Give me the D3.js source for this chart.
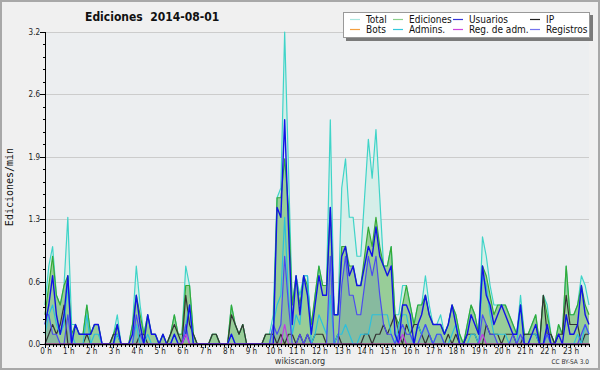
<!DOCTYPE html>
<html>
<head>
<meta charset="utf-8">
<script src="https://cdn.jsdelivr.net/npm/d3@7"></script>
<style>
body { margin: 0; background: #fff; }
text { font-family: "DejaVu Sans Condensed", "Liberation Sans", sans-serif; }
</style>
</head>
<body>
<svg id="chart" width="600" height="370"></svg>
<script>
// edits per minute, one value per 10 minutes (144 slots)
const hourLabels = ["0 h","1 h","2 h","3 h","4 h","5 h","6 h","7 h","8 h","9 h","10 h","11 h",
    "12 h","13 h","14 h","15 h","16 h","17 h","18 h","19 h","20 h","21 h","22 h","23 h"];

const yTickValues = [0, 0.64, 1.28, 1.92, 2.56, 3.2];
const yTickLabels = ["0.0", "0.6", "1.3", "1.9", "2.6", "3.2"];

const total = [
    0.4,0.8,1.0,0.5,0.4,0.6, 1.3,0.2,0.2,0.1,0.1,0.4, 0.1,0.2,0.2,0.0,0.0,0.0, 0.1,0.3,0.0,0.0,0.0,0.2,
    0.8,0.4,0.1,0.3,0.1,0.1, 0.0,0.1,0.0,0.1,0.3,0.1, 0.1,0.8,0.6,0.1,0.0,0.0, 0.0,0.0,0.1,0.1,0.0,0.0,
    0.0,0.4,0.2,0.1,0.2,0.0, 0.0,0.0,0.0,0.0,0.1,0.1, 0.3,1.5,1.6,3.2,1.8,0.4, 0.7,0.5,0.7,0.7,0.1,0.5,
    0.8,0.6,0.6,2.3,0.3,0.3, 1.6,1.9,1.3,1.3,0.9,0.9, 1.5,2.1,1.7,2.2,1.5,0.8, 0.8,1.0,0.3,0.3,0.6,0.6,
    0.4,0.2,0.4,0.4,0.7,0.4, 0.2,0.2,0.3,0.1,0.2,0.4, 0.3,0.1,0.0,0.2,0.4,0.3, 0.1,1.1,0.9,0.6,0.4,0.4,
    0.4,0.4,0.3,0.2,0.1,0.5, 0.1,0.1,0.2,0.3,0.0,0.5, 0.4,0.1,0.0,0.2,0.1,0.8, 0.3,0.3,0.4,0.7,0.6,0.4
];
const ediciones = [
    0.3,0.6,0.9,0.5,0.4,0.6, 0.7,0.1,0.2,0.1,0.1,0.4, 0.1,0.2,0.2,0.0,0.0,0.0, 0.1,0.2,0.0,0.0,0.0,0.2,
    0.5,0.3,0.1,0.3,0.1,0.1, 0.0,0.1,0.0,0.1,0.3,0.1, 0.1,0.6,0.6,0.1,0.0,0.0, 0.0,0.0,0.1,0.1,0.0,0.0,
    0.0,0.4,0.2,0.1,0.2,0.0, 0.0,0.0,0.0,0.0,0.1,0.1, 0.1,1.5,1.5,1.9,1.4,0.4, 0.7,0.4,0.7,0.6,0.2,0.5,
    0.8,0.6,0.6,1.4,0.3,0.3, 1.0,1.0,0.8,0.8,0.6,0.6, 0.9,1.2,1.0,1.3,1.0,0.8, 0.8,1.0,0.3,0.2,0.4,0.6,
    0.4,0.2,0.4,0.4,0.5,0.3, 0.2,0.2,0.2,0.1,0.2,0.4, 0.3,0.1,0.0,0.2,0.4,0.3, 0.1,0.8,0.7,0.5,0.3,0.4,
    0.4,0.4,0.3,0.2,0.1,0.4, 0.1,0.1,0.2,0.3,0.0,0.5, 0.3,0.1,0.0,0.2,0.1,0.8, 0.3,0.3,0.4,0.6,0.4,0.3
];
const usuarios = [
    0.2,0.4,0.7,0.3,0.1,0.3, 0.7,0.0,0.2,0.1,0.1,0.1, 0.1,0.2,0.2,0.0,0.0,0.0, 0.0,0.2,0.0,0.0,0.0,0.1,
    0.5,0.2,0.0,0.3,0.1,0.1, 0.0,0.1,0.0,0.0,0.1,0.0, 0.0,0.1,0.4,0.0,0.0,0.0, 0.0,0.0,0.0,0.0,0.0,0.0,
    0.0,0.1,0.0,0.0,0.0,0.0, 0.0,0.0,0.0,0.0,0.0,0.0, 0.0,1.4,1.3,2.3,1.2,0.2, 0.7,0.3,0.7,0.5,0.1,0.4,
    0.7,0.5,0.5,1.4,0.3,0.3, 0.9,1.0,0.7,0.8,0.6,0.6, 0.8,1.0,0.9,1.2,0.9,0.8, 0.7,0.8,0.1,0.0,0.4,0.4,
    0.3,0.0,0.2,0.3,0.5,0.3, 0.2,0.2,0.2,0.1,0.2,0.4, 0.2,0.0,0.0,0.1,0.3,0.2, 0.1,0.8,0.5,0.4,0.2,0.3,
    0.4,0.3,0.2,0.1,0.1,0.4, 0.0,0.0,0.1,0.2,0.0,0.0, 0.2,0.0,0.0,0.1,0.0,0.3, 0.1,0.1,0.2,0.6,0.3,0.2
];
const ip = [
    0.0,0.1,0.2,0.1,0.2,0.4, 0.0,0.0,0.0,0.0,0.0,0.1, 0.0,0.0,0.0,0.0,0.0,0.0, 0.1,0.1,0.0,0.0,0.0,0.0,
    0.0,0.1,0.1,0.0,0.0,0.0, 0.0,0.0,0.0,0.1,0.2,0.1, 0.0,0.5,0.2,0.1,0.0,0.0, 0.0,0.0,0.1,0.1,0.0,0.0,
    0.0,0.3,0.2,0.1,0.2,0.0, 0.0,0.0,0.0,0.0,0.1,0.1, 0.1,0.0,0.1,0.0,0.1,0.1, 0.0,0.1,0.0,0.1,0.0,0.1,
    0.1,0.1,0.0,0.0,0.0,0.1, 0.0,0.0,0.0,0.0,0.0,0.0, 0.1,0.1,0.0,0.1,0.1,0.2, 0.1,0.2,0.3,0.1,0.0,0.2,
    0.1,0.2,0.2,0.1,0.0,0.1, 0.0,0.0,0.0,0.0,0.1,0.0, 0.1,0.0,0.0,0.1,0.1,0.1, 0.0,0.0,0.2,0.1,0.1,0.1,
    0.0,0.1,0.1,0.1,0.0,0.0, 0.1,0.1,0.1,0.1,0.0,0.5, 0.1,0.1,0.0,0.1,0.1,0.5, 0.2,0.2,0.2,0.0,0.1,0.1
];
const bots = new Array(144).fill(0);
const admins = [
    0.1,0.3,0.4,0.2,0.1,0.2, 0.6,0.1,0.0,0.0,0.0,0.3, 0.0,0.1,0.1,0.0,0.0,0.0, 0.0,0.1,0.0,0.0,0.0,0.0,
    0.2,0.0,0.0,0.1,0.0,0.0, 0.0,0.0,0.0,0.0,0.1,0.0, 0.0,0.2,0.4,0.0,0.0,0.0, 0.0,0.0,0.0,0.0,0.0,0.0,
    0.0,0.1,0.0,0.0,0.0,0.0, 0.0,0.0,0.0,0.0,0.0,0.0, 0.2,0.4,0.5,1.3,0.5,0.1, 0.3,0.2,0.7,0.7,0.0,0.1,
    0.3,0.2,0.1,0.5,0.0,0.1, 0.1,0.2,0.1,0.0,0.0,0.1, 0.1,0.1,0.3,0.3,0.3,0.3, 0.3,0.1,0.0,0.2,0.3,0.3,
    0.1,0.0,0.2,0.1,0.2,0.1, 0.0,0.1,0.1,0.0,0.0,0.1, 0.2,0.0,0.0,0.0,0.1,0.1, 0.0,0.7,0.6,0.3,0.1,0.1,
    0.1,0.1,0.0,0.0,0.0,0.4, 0.0,0.0,0.1,0.1,0.0,0.0, 0.1,0.0,0.0,0.0,0.0,0.0, 0.0,0.0,0.1,0.0,0.2,0.1
];
const regAdm = [
    0,0,0,0,0,0, 0,0,0,0,0,0, 0,0,0,0,0,0, 0,0,0,0,0,0,
    0,0,0,0,0,0, 0,0,0,0,0,0, 0,0.1,0,0,0,0, 0,0,0,0,0,0,
    0,0,0,0,0,0, 0,0,0,0,0,0, 0,0,0,0.2,0,0, 0,0,0,0,0,0,
    0,0,0,0,0,0, 0,0,0,0,0,0, 0,0,0,0,0,0, 0,0,0,0,0.1,0,
    0,0,0,0,0,0, 0,0,0,0,0,0, 0,0,0,0,0,0, 0,0.1,0,0,0,0,
    0,0,0,0,0,0, 0,0,0,0,0,0, 0,0,0,0,0,0, 0,0,0,0,0,0
];
const registros = [
    0.3,0.3,0.1,0.1,0.0,0.0, 0.3,0.0,0.0,0.0,0.0,0.0, 0.0,0.0,0.0,0.0,0.0,0.0, 0.0,0.0,0.0,0.0,0.0,0.0,
    0.3,0.1,0.0,0.0,0.0,0.0, 0.0,0.0,0.0,0.0,0.0,0.0, 0.0,0.2,0.0,0.0,0.0,0.0, 0.0,0.0,0.0,0.0,0.0,0.0,
    0.0,0.0,0.0,0.0,0.0,0.0, 0.0,0.0,0.0,0.0,0.0,0.0, 0.2,0.1,0.2,0.9,0.4,0.0, 0.0,0.1,0.0,0.1,0.0,0.0,
    0.0,0.0,0.0,0.9,0.0,0.0, 0.6,0.9,0.5,0.5,0.3,0.3, 0.6,0.9,0.7,0.9,0.5,0.2, 0.1,0.1,0.0,0.1,0.2,0.1,
    0.1,0.0,0.0,0.1,0.2,0.1, 0.0,0.1,0.1,0.0,0.0,0.0, 0.0,0.0,0.0,0.0,0.0,0.0, 0.0,0.3,0.2,0.1,0.1,0.0,
    0.0,0.0,0.0,0.1,0.0,0.1, 0.0,0.0,0.0,0.0,0.0,0.0, 0.1,0.0,0.0,0.0,0.0,0.0, 0.0,0.0,0.0,0.1,0.2,0.1
];

const legendNames = ["Total", "Ediciones", "Usuarios", "IP", "Bots", "Admins.", "Reg. de adm.", "Registros"];
const legendColours = ["#a9e6e0", "#8ccf8c", "#3434d8", "#222222", "#f4a040", "#33c8dc", "#cc44dd", "#7474ee"];

const svg = d3.select("#chart");

const margin = {left: 45, right: 589, top: 32, bottom: 344};

const x = d3.scaleLinear().domain([0, 143]).range([margin.left, margin.right]);
const y = d3.scaleLinear().domain([0, 3.2]).range([margin.bottom, margin.top]);

// background + frame
svg.append("rect").attr("x", 0).attr("y", 0).attr("width", 600).attr("height", 370)
    .attr("fill", "#f0f0f0");
svg.append("rect").attr("x", margin.left).attr("y", margin.top)
    .attr("width", margin.right - margin.left).attr("height", margin.bottom - margin.top)
    .attr("fill", "#eceef0");
svg.append("rect").attr("x", 1).attr("y", 1).attr("width", 598).attr("height", 368)
    .attr("fill", "none").attr("stroke", "#a8a8a8").attr("stroke-width", 2);

// grid
svg.append("g")
    .selectAll("line")
    .data(yTickValues.slice(1))
    .join("line")
    .attr("x1", margin.left).attr("x2", margin.right)
    .attr("y1", d => Math.round(y(d)) + 0.5).attr("y2", d => Math.round(y(d)) + 0.5)
    .attr("stroke", "#cccccc");

const area = (arr) => d3.area()
    .x((d, i) => x(i))
    .y0(y(0))
    .y1(d => y(d))(arr);
const line = (arr) => d3.line()
    .x((d, i) => x(i))
    .y(d => y(d))(arr);

// areas
svg.append("path").attr("d", area(total)).attr("fill", "#d6eee9");
svg.append("path").attr("d", area(ediciones)).attr("fill", "#98cd98");
svg.append("path").attr("d", area(registros)).attr("fill", "rgba(50,90,200,0.16)");

//lines
const lines = [
    {data: total, colour: "#3fd4c8", width: 1.2},
    {data: ediciones, colour: "#36aa36", width: 1.2},
    {data: bots, colour: "#f4a040", width: 1.2},
    {data: ip, colour: "#333333", width: 1.2},
    {data: admins, colour: "#2cc0dc", width: 1.2},
    {data: registros, colour: "#4b4bf0", width: 1.2},
    {data: usuarios, colour: "#1212e6", width: 1.4},
    {data: regAdm, colour: "#c438e6", width: 1.2}
];
svg.append("g")
    .attr("fill", "none")
    .attr("stroke-linejoin", "round")
    .selectAll("path")
    .data(lines)
    .join("path")
    .attr("d", d => line(d.data))
    .attr("stroke", d => d.colour)
    .attr("stroke-width", d => d.width);

// y axis
const yAxis = svg.append("g").attr("font-size", 8).attr("fill", "#222");
yAxis.append("line")
    .attr("x1", margin.left + 0.5).attr("x2", margin.left + 0.5)
    .attr("y1", margin.top).attr("y2", margin.bottom + 1)
    .attr("stroke", "#000");
yAxis.selectAll("line.minor")
    .data(d3.range(0, 3.2001, 0.128))
    .join("line")
    .attr("class", "minor")
    .attr("x1", margin.left - 2).attr("x2", margin.left)
    .attr("y1", d => Math.round(y(d)) + 0.5).attr("y2", d => Math.round(y(d)) + 0.5)
    .attr("stroke", "#000");
yAxis.selectAll("line.major")
    .data(yTickValues)
    .join("line")
    .attr("class", "major")
    .attr("x1", margin.left - 5).attr("x2", margin.left)
    .attr("y1", d => Math.round(y(d)) + 0.5).attr("y2", d => Math.round(y(d)) + 0.5)
    .attr("stroke", "#000");
yAxis.selectAll("text")
    .data(yTickValues)
    .join("text")
    .attr("x", margin.left - 5)
    .attr("y", d => y(d) + 3)
    .attr("text-anchor", "end")
    .text((d, i) => yTickLabels[i]);

// x axis
const xAxis = svg.append("g").attr("font-size", 8).attr("fill", "#222");
xAxis.append("line")
    .attr("x1", margin.left).attr("x2", margin.right + 1)
    .attr("y1", margin.bottom + 0.5).attr("y2", margin.bottom + 0.5)
    .attr("stroke", "#000").attr("stroke-width", 1.5);
xAxis.selectAll("line.tick")
    .data(d3.range(144))
    .join("line")
    .attr("class", "tick")
    .attr("x1", d => Math.round(x(d)) + 0.5).attr("x2", d => Math.round(x(d)) + 0.5)
    .attr("y1", margin.bottom).attr("y2", d => margin.bottom + (d % 6 === 0 ? 4 : 3))
    .attr("stroke", "#000");
xAxis.selectAll("text")
    .data(hourLabels)
    .join("text")
    .attr("x", (d, i) => x(i * 6) + 1)
    .attr("y", 354)
    .attr("text-anchor", "middle")
    .text(d => d);

// titles
svg.append("text")
    .attr("x", 85).attr("y", 21)
    .attr("font-size", 12).attr("font-weight", "bold").attr("fill", "#111")
    .attr("xml:space", "preserve")
    .text("Ediciones  2014-08-01");

svg.append("text")
    .attr("transform", "translate(13,187) rotate(-90)")
    .attr("text-anchor", "middle")
    .attr("font-size", 10)
    .style("font-family", "'DejaVu Sans Mono', monospace")
    .attr("fill", "#111")
    .text("Ediciones/min");

svg.append("text")
    .attr("x", 300).attr("y", 364)
    .attr("text-anchor", "middle")
    .attr("font-size", 9).attr("fill", "#333")
    .text("wikiscan.org");

svg.append("text")
    .attr("x", 589).attr("y", 364)
    .attr("text-anchor", "end")
    .attr("font-size", 6.5).attr("fill", "#333")
    .text("CC BY-SA 3.0");

// legend
const legend = svg.append("g");
legend.append("rect").attr("x", 346).attr("y", 15).attr("width", 247).attr("height", 26).attr("fill", "#7a7a7a");
legend.append("rect").attr("x", 343.5).attr("y", 12.5).attr("width", 246).attr("height", 25)
    .attr("fill", "#fff").attr("stroke", "#999");

const colX = [350, 393, 453, 530];
const rowY = [19, 29];
const items = legend.selectAll("g")
    .data(legendNames)
    .join("g")
    .attr("transform", (d, i) => `translate(${colX[i % 4]},${rowY[Math.floor(i / 4)]})`);
items.append("line")
    .attr("x1", 0).attr("x2", 10).attr("y1", 0.5).attr("y2", 0.5)
    .attr("stroke", (d, i) => legendColours[i]).attr("stroke-width", 1.2);
items.append("text")
    .attr("x", 16).attr("y", 3.5)
    .attr("font-size", 10).attr("fill", "#111")
    .text(d => d);
</script>
</body>
</html>
